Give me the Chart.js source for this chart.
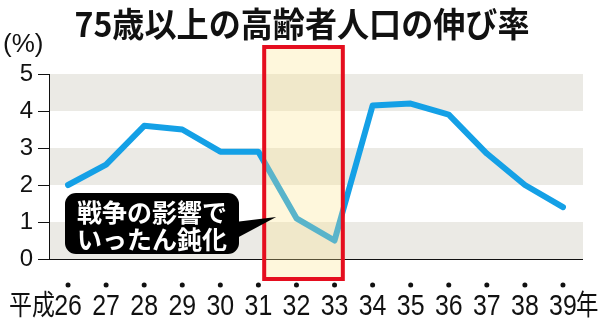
<!DOCTYPE html>
<html lang="ja">
<head>
<meta charset="utf-8">
<script src="https://cdn.jsdelivr.net/npm/chart.js@4.4.1/dist/chart.umd.min.js"></script>
<style>
  html, body { margin: 0; padding: 0; background: #fff; }
  #wrap { width: 600px; height: 332px; }
</style>
</head>
<body>
<div id="wrap"><canvas id="rateChart"></canvas></div>
<script>
// -----------------------------
// Data
// -----------------------------
const years = ["26", "27", "28", "29", "30", "31", "32", "33", "34", "35", "36", "37", "38", "39"];
const growthRate = [2.0, 2.55, 3.6, 3.5, 2.9, 2.9, 1.1, 0.5, 4.15, 4.2, 3.9, 2.85, 2.0, 1.4];
const yTicks = [0, 1, 2, 3, 4, 5];
const shadedBands = [[0, 1], [2, 3], [4, 5]];
const highlightYears = ["32", "33"];
const noteLines = ["戦争の影響で", "いったん鈍化"];
const titleText = "75歳以上の高齢者人口の伸び率";
const unitText = "(%)";
const eraPrefix = "平成";
const yearSuffix = "年";

const latinFont = "'Liberation Sans', Arial, sans-serif";
const cjkFont = "'Noto Sans CJK JP', sans-serif";


// draw text squeezed horizontally (the print graphic uses a narrow face)
function narrowText(ctx, text, x, y, sx, align) {
  ctx.save();
  ctx.translate(x, y);
  ctx.scale(sx, 1);
  ctx.textAlign = align;
  ctx.fillText(text, 0, 0);
  ctx.restore();
}


// -----------------------------
// Background bands (before scales)
// -----------------------------
const bandPlugin = {
  id: "bands",
  beforeDraw(chart) {
    const { ctx, chartArea, scales } = chart;
    ctx.save();
    ctx.fillStyle = "#ebeae5";
    shadedBands.forEach(b => {
      const y1 = scales.y.getPixelForValue(b[1]);
      const y0 = scales.y.getPixelForValue(b[0]);
      ctx.fillRect(chartArea.left, y1, chartArea.right - chartArea.left + 1, y0 - y1);
    });
    ctx.restore();
  }
};


// -----------------------------
// Title, highlight box, callout, x labels
// -----------------------------
const overlayPlugin = {
  id: "overlay",
  afterDraw(chart) {
    const { ctx, chartArea, scales } = chart;
    const xs = scales.x;

    // title
    ctx.save();
    ctx.fillStyle = "#111";
    ctx.font = "bold 34px " + cjkFont;
    ctx.textBaseline = "middle";
    const tw = ctx.measureText(titleText).width;
    narrowText(ctx, titleText, 302, 24, 455 / tw, "center");

    // unit label
    ctx.font = "26px " + latinFont;
    ctx.textAlign = "left";
    ctx.fillText(unitText, 3, 45);
    ctx.restore();

    // highlight box over the war years
    const i0 = years.indexOf(highlightYears[0]);
    const i1 = years.indexOf(highlightYears[highlightYears.length - 1]);
    const left = xs.getPixelForValue(i0 - 0.9);
    const right = xs.getPixelForValue(i1 + 0.27);
    const top = chartArea.top - 29;
    const bottom = chartArea.bottom + 22;

    ctx.save();
    ctx.fillStyle = "rgba(252, 228, 140, 0.3)";
    ctx.fillRect(left, top, right - left, bottom - top);
    ctx.strokeStyle = "#e50e1f";
    ctx.lineWidth = 4;
    ctx.strokeRect(left + 2, top + 2, right - left - 4, bottom - top - 4);
    ctx.restore();

    // callout bubble
    const bx = chartArea.left + 16;
    const by = chartArea.top + 119;
    const bw = 174;
    const bh = 61;

    ctx.save();
    ctx.fillStyle = "#000";
    ctx.beginPath();
    ctx.roundRect(bx, by, bw, bh, 11);
    ctx.fill();
    ctx.beginPath();
    ctx.moveTo(bx + bw - 4, by + 29);
    ctx.lineTo(left + 14, by + 24);
    ctx.lineTo(bx + bw - 4, by + 46);
    ctx.closePath();
    ctx.fill();

    ctx.fillStyle = "#fff";
    ctx.font = "bold 25px " + cjkFont;
    ctx.textAlign = "center";
    ctx.textBaseline = "middle";
    ctx.fillText(noteLines[0], bx + bw / 2, by + 19);
    ctx.fillText(noteLines[1], bx + bw / 2, by + 46);
    ctx.restore();

    // dots and year labels under the axis
    ctx.save();
    ctx.fillStyle = "#111";
    xs.ticks.forEach((t, i) => {
      const px = xs.getPixelForTick(i);
      ctx.beginPath();
      ctx.arc(px, chartArea.bottom + 26, 2.5, 0, Math.PI * 2);
      ctx.fill();
    });

    ctx.font = "30px " + latinFont;
    ctx.textBaseline = "alphabetic";
    xs.ticks.forEach((t, i) => {
      narrowText(ctx, xs.getLabelForValue(t.value), xs.getPixelForTick(i), chartArea.bottom + 56, 0.83, "center");
    });

    ctx.font = "28px " + cjkFont;
    ctx.textBaseline = "middle";
    narrowText(ctx, eraPrefix, xs.getPixelForTick(0) - 13, chartArea.bottom + 45, 0.82, "right");
    narrowText(ctx, yearSuffix, xs.getPixelForTick(years.length - 1) + 13, chartArea.bottom + 45, 0.8, "left");
    ctx.restore();
  }
};


// -----------------------------
// Chart
// -----------------------------
new Chart(document.getElementById("rateChart").getContext("2d"), {

  type: "line",

  data: {
    labels: years,
    datasets: [{
      label: "伸び率",
      data: growthRate,
      borderColor: "#14a0e6",
      borderWidth: 6,
      borderJoinStyle: "round",
      borderCapStyle: "round",
      pointRadius: 0,
      tension: 0,
      fill: false
    }]
  },

  options: {
    responsive: true,
    maintainAspectRatio: false,
    devicePixelRatio: 1,
    animation: false,
    layout: { padding: { top: 74, right: 18, bottom: 0, left: 0 } },
    plugins: {
      legend: { display: false },
      tooltip: { enabled: false },
      title: { display: false }
    },
    scales: {
      x: {
        offset: true,
        grid: { display: false, drawTicks: false },
        border: { display: true, color: "#111", width: 1 },
        ticks: { display: false, autoSkip: false },
        afterFit: s => { s.height = 73; }
      },
      y: {
        min: yTicks[0],
        max: yTicks[yTicks.length - 1],
        afterBuildTicks: s => { s.ticks = yTicks.map(v => ({ value: v })); },
        grid: { drawOnChartArea: false, drawTicks: true, tickLength: 11, color: "#111" },
        border: { display: true, color: "#111", width: 1 },
        ticks: {
          color: "#111",
          font: { family: latinFont, size: 24 },
          padding: 5
        },
        afterFit: s => { s.width = 49; }
      }
    }
  },

  plugins: [bandPlugin, overlayPlugin]

});
</script>
</body>
</html>
